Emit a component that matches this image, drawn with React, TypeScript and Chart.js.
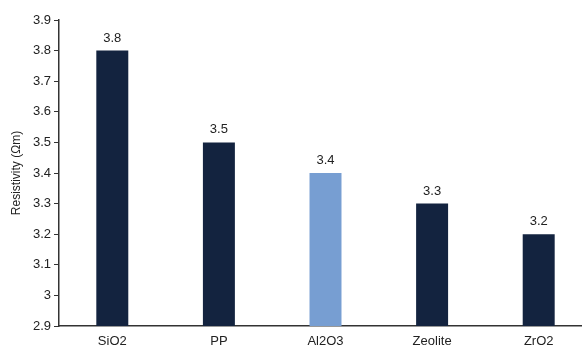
import React, { useEffect, useRef } from "react";
import { Chart, registerables } from "chart.js";

Chart.register(...registerables);

const categories = ["SiO2", "PP", "Al2O3", "Zeolite", "ZrO2"];
const values = [3.8, 3.5, 3.4, 3.3, 3.2];
const barColors = ["#13233f", "#13233f", "#779ed2", "#13233f", "#13233f"];
const yMin = 2.9;
const yMax = 3.9;
const yStep = 0.1;
const yTitle = "Resistivity (Ωm)";

const FONT = "'Liberation Sans', Arial, sans-serif";

const labelPlugin = {
  id: "barLabels",
  afterDatasetsDraw(chart: any) {
    const ctx = chart.ctx;
    const meta = chart.getDatasetMeta(0);
    ctx.save();
    ctx.font = "13px " + FONT;
    ctx.fillStyle = "#222";
    ctx.textAlign = "center";
    ctx.textBaseline = "bottom";
    meta.data.forEach((bar: any, i: number) => {
      ctx.fillText(String(values[i]), bar.x, bar.y - 6);
    });
    ctx.restore();
  },
};

export default function App() {
  const ref = useRef<HTMLCanvasElement>(null);
  useEffect(() => {
    document.body.style.margin = "0";
    document.body.style.overflow = "hidden";
    const chart = new Chart(ref.current!, {
      type: "bar",
      data: {
        labels: categories,
        datasets: [
          {
            data: values,
            backgroundColor: barColors,
            barPercentage: 0.3,
            categoryPercentage: 1,
          },
        ],
      },
      options: {
        animation: false,
        responsive: false,
        maintainAspectRatio: false,
        layout: { padding: { top: 20, right: 0, bottom: 0, left: 0 } },
        plugins: { legend: { display: false }, tooltip: { enabled: false } },
        scales: {
          x: {
            afterFit(scale: any) {
              scale.height = 26;
            },
            grid: { display: true, drawOnChartArea: false, drawTicks: false },
            border: { display: true, color: "#333", width: 1.5 },
            ticks: {
              color: "#222",
              padding: 8,
              font: { family: FONT, size: 13 },
            },
          },
          y: {
            min: yMin,
            max: yMax,
            afterFit(scale: any) {
              scale.width = 59;
            },
            ticks: {
              stepSize: yStep,
              color: "#222",
              padding: 3,
              font: { family: FONT, size: 13 },
              callback: (v: any) => String(Math.round(Number(v) * 10) / 10),
            },
            grid: {
              display: true,
              drawOnChartArea: false,
              drawTicks: true,
              tickLength: 5,
              color: "#333",
            },
            border: { display: true, color: "#333", width: 1.5 },
            title: {
              display: true,
              text: yTitle,
              color: "#222",
              padding: { top: 9, bottom: 0 },
              font: { family: FONT, size: 12 },
            },
          },
        },
      },
      plugins: [labelPlugin],
    });
    return () => chart.destroy();
  }, []);
  return (
    <div style={{ position: "absolute", left: 0, top: 0, width: 582, height: 352, overflow: "hidden" }}>
      <canvas ref={ref} width={592} height={352} style={{ width: 592, height: 352 }} />
    </div>
  );
}
